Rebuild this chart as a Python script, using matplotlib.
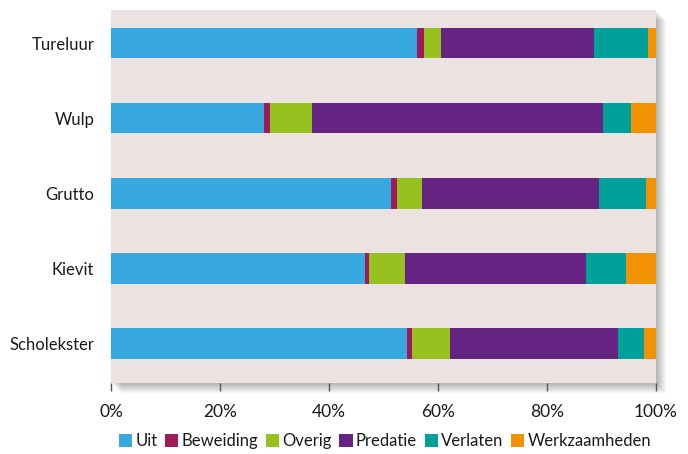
import matplotlib.pyplot as plt
from matplotlib.patches import Rectangle

species = ["Tureluur", "Wulp", "Grutto", "Kievit", "Scholekster"]
categories = ["Uit", "Beweiding", "Overig", "Predatie", "Verlaten", "Werkzaamheden"]
colors = ["#38a8e0", "#a0195a", "#97c11f", "#652382", "#00a19a", "#f39200"]

# shares per category (%), one value per species in the order above
uit = [56.1, 28.1, 51.4, 46.6, 54.3]
beweiding = [1.3, 1.1, 1.1, 0.7, 0.9]
overig = [3.2, 7.7, 4.6, 6.6, 7.0]
predatie = [28.0, 53.4, 32.4, 33.3, 30.8]
verlaten = [9.9, 5.1, 8.7, 7.3, 4.8]
werkzaamheden = [1.5, 4.6, 1.8, 5.5, 2.2]
series = [uit, beweiding, overig, predatie, verlaten, werkzaamheden]

plt.rcParams["font.family"] = ["Lato", "DejaVu Sans"]
text_color = "#1a1a1a"
fs = 12

fig = plt.figure(figsize=(6.88, 4.54), dpi=100)
ax = fig.add_axes([111 / 688, 1 - 383 / 454, 545 / 688, 373 / 454])

# soft drop shadow behind the panel (right and bottom)
for i in range(10):
    off = (i + 1) * 1.0
    fig.patches.append(Rectangle(
        ((111 + off) / 688, (71 - off) / 454), 545 / 688, 373 / 454,
        transform=fig.transFigure, facecolor="#000000", alpha=0.03,
        edgecolor="none", zorder=-5))

ax.set_facecolor("#ece2e2")
ax.set_zorder(1)

ypos = list(range(len(species)))[::-1]
left = [0.0] * len(species)
for name, vals, col in zip(categories, series, colors):
    ax.barh(ypos, vals, left=left, height=0.41, color=col, label=name,
            clip_on=False, zorder=3)
    left = [a + b for a, b in zip(left, vals)]

ax.set_xlim(0, 100)
ax.set_ylim(-0.53, 4.44)
ax.set_xticks([0, 20, 40, 60, 80, 100])
ax.set_xticklabels(["0%", "20%", "40%", "60%", "80%", "100%"])
ax.set_yticks(ypos)
ax.set_yticklabels(species)
for s in ax.spines.values():
    s.set_visible(False)
ax.tick_params(axis="y", length=0, pad=12, labelsize=fs, labelcolor=text_color)
ax.tick_params(axis="x", length=6, width=1, color="#555555", pad=9,
               labelsize=fs + 0.5, labelcolor=text_color)

handles, labels = ax.get_legend_handles_labels()
leg = fig.legend(handles, labels, loc="center", bbox_to_anchor=(385 / 688, 1 - 441 / 454),
                 ncol=6, frameon=False, handlelength=0.8, handleheight=0.8,
                 handletextpad=0.2, columnspacing=0.45, fontsize=fs,
                 borderaxespad=0)
for t in leg.get_texts():
    t.set_color(text_color)

fig.savefig("out.png", dpi=100)
